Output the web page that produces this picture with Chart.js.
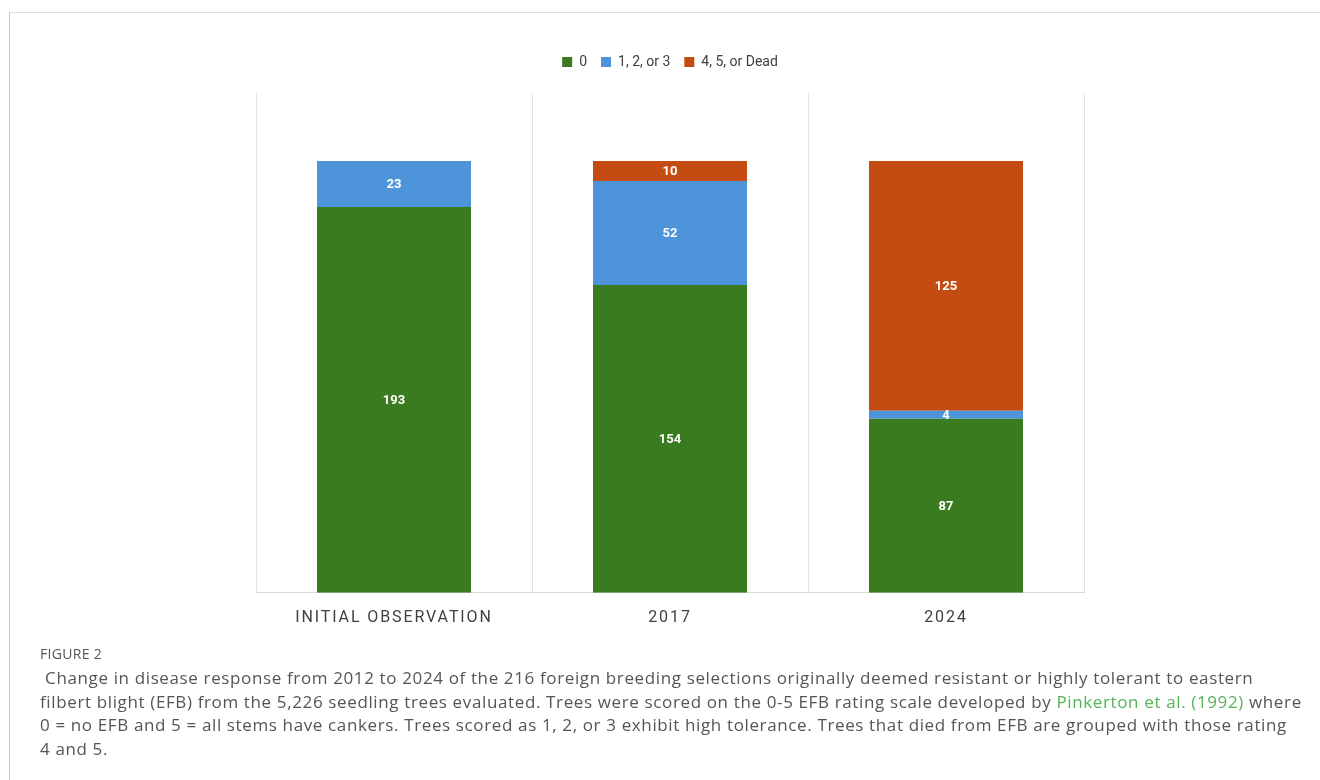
<!DOCTYPE html>
<html>
<head>
  <meta charset="utf-8">
  <title>Figure 2 - EFB disease response</title>
  <style>
    body { margin: 0; background: #fff; width: 1320px; height: 780px; overflow: hidden; position: relative; }
    .frame { position: absolute; left: 9px; top: 12px; right: 0; bottom: 0; border-top: 1px solid #dcdcdc; border-left: 1px solid #c8c8c8; }
    .wrap { position: absolute; left: 0; top: 0; width: 1320px; height: 655px; }
    .caption { position: absolute; left: 40px; top: 644px; font-family: "Open Sans", sans-serif; color: #555; white-space: nowrap; }
    .caption .fig { font-size: 14px; letter-spacing: 0.3px; line-height: 20px; color: #555; }
    .caption .txt { font-size: 17px; letter-spacing: 0.63px; line-height: 23.7px; margin-top: 2px; }
    .caption a { color: #55b35a; text-decoration: none; }
  </style>
  <script src="https://cdn.jsdelivr.net/npm/chart.js@4.4.1/dist/chart.umd.min.js"></script>
</head>
<body>
  <div class="frame"></div>
  <div class="wrap"><canvas id="chart" width="1320" height="655"></canvas></div>
  <div class="caption">
    <div class="fig">FIGURE 2</div>
    <div class="txt">&nbsp;Change in disease response from 2012 to 2024 of the 216 foreign breeding selections originally deemed resistant or highly tolerant to eastern<br>filbert blight (EFB) from the 5,226 seedling trees evaluated. Trees were scored on the 0-5 EFB rating scale developed by <a href="#">Pinkerton et al. (1992)</a> where<br>0 = no EFB and 5 = all stems have cankers. Trees scored as 1, 2, or 3 exhibit high tolerance. Trees that died from EFB are grouped with those rating<br>4 and 5.</div>
  </div>
  <script>
    // chart data
    const categories = ["INITIAL OBSERVATION", "2017", "2024"];
    const seriesNames = ["0", "1, 2, or 3", "4, 5, or Dead"];
    const noEFB = [193, 154, 87];
    const tolerant = [23, 52, 4];
    const severeOrDead = [0, 10, 125];
    const colors = ["#3a7b20", "#4d94db", "#c44c12"];

    // white value labels in the middle of each segment
    const segmentLabels = {
      id: "segmentLabels",
      afterDatasetsDraw(chart) {
        const ctx = chart.ctx;
        ctx.save();
        ctx.fillStyle = "#ffffff";
        ctx.font = "bold 13px Roboto, sans-serif";
        ctx.textAlign = "center";
        ctx.textBaseline = "middle";
        chart.data.datasets.forEach((ds, i) => {
          chart.getDatasetMeta(i).data.forEach((bar, j) => {
            const v = ds.data[j];
            if (!v) return;
            ctx.fillText(String(v), bar.x, (bar.y + bar.base) / 2 + 1);
          });
        });
        ctx.restore();
      }
    };

    // extra gap under the legend
    const legendGap = {
      id: "legendGap",
      beforeLayout(chart) {
        const lg = chart.legend;
        if (!lg || lg._gap) return;
        const origFit = lg.fit.bind(lg);
        lg.fit = function () {
          origFit();
          this.height += 14;
        };
        lg._gap = true;
      }
    };

    // spaced-out category labels, like the original
    const spacedTicks = {
      id: "spacedTicks",
      beforeDraw(chart) {
        const xs = chart.scales.x;
        if (!xs || xs._spaced) return;
        const orig = xs.drawLabels.bind(xs);
        xs.drawLabels = function (area) {
          this.ctx.save();
          this.ctx.letterSpacing = "1.9px";
          orig(area);
          this.ctx.restore();
        };
        xs._spaced = true;
      }
    };

    new Chart(document.getElementById("chart"), {
      type: "bar",
      data: {
        labels: categories,
        datasets: [
          { label: seriesNames[0], data: noEFB, backgroundColor: colors[0] },
          { label: seriesNames[1], data: tolerant, backgroundColor: colors[1] },
          { label: seriesNames[2], data: severeOrDead, backgroundColor: colors[2] },
        ],
      },
      options: {
        responsive: false,
        animation: false,
        categoryPercentage: 1,
        barPercentage: 0.558,
        layout: { padding: { left: 256, right: 236, top: 41, bottom: 11 } },
        plugins: {
          tooltip: { enabled: false },
          legend: {
            position: "top",
            labels: {
              boxWidth: 10,
              boxHeight: 10,
              padding: 14,
              color: "#404040",
              font: { family: "Roboto, sans-serif", size: 14 },
            },
          },
        },
        scales: {
          x: {
            stacked: true,
            grid: { color: "#e2e2e2", drawTicks: false },
            border: { color: "#d9d9d9" },
            ticks: {
              padding: 16,
              color: "#404040",
              font: { family: "Roboto, sans-serif", size: 16 },
            },
          },
          y: {
            stacked: true,
            display: false,
            min: 0,
            max: 250,
          },
        },
      },
      plugins: [segmentLabels, legendGap, spacedTicks],
    });
  </script>
</body>
</html>
